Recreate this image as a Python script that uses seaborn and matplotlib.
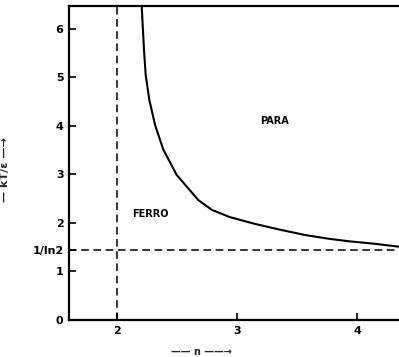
import matplotlib
matplotlib.use("Agg")
import matplotlib.pyplot as plt
import seaborn as sns
import pandas as pd
import numpy as np

# values
n_values = [2.206, 2.214, 2.225, 2.239, 2.269, 2.317, 2.386, 2.497, 2.678,
            2.79, 2.94, 3.15, 3.36, 3.57, 3.775, 3.94, 4.15, 4.35]
kT_values = [6.46, 6.08, 5.57, 5.05, 4.54, 4.02, 3.51, 2.99, 2.47,
             2.27, 2.12, 1.98, 1.86, 1.75, 1.67, 1.62, 1.57, 1.51]
y_ticks = [0, 1, 1 / np.log(2), 2, 3, 4, 5, 6]
y_tick_labels = ["0", "1", "1/ln2", "2", "3", "4", "5", "6"]
x_ticks = [2, 3, 4]
x_tick_labels = ["2", "3", "4"]

curve = pd.DataFrame({"n": n_values, "kT": kT_values})

sns.set_style("ticks")
plt.rcParams["font.family"] = ["DejaVu Sans"]
plt.rcParams["font.weight"] = "bold"

fig = plt.figure(figsize=(3.99, 3.57), dpi=100)
ax = fig.add_axes([69 / 399, 37 / 357, 330 / 399, 314 / 357])

sns.lineplot(data=curve, x="n", y="kT", color="black", linewidth=1.5, ax=ax)
ax.axvline(2, color="black", linewidth=1.1, linestyle=(0, (5, 3)))
ax.axhline(1 / np.log(2), color="black", linewidth=1.1, linestyle=(0, (5, 3)))

ax.text(2.275, 2.18, "FERRO", fontsize=7, fontweight="heavy", ha="center", va="center", color="black")
ax.text(3.31, 4.1, "PARA", fontsize=7, fontweight="heavy", ha="center", va="center", color="black")

ax.set_xlim(1.6, 4.35)
ax.set_ylim(0, 6.47)
ax.set_xticks(x_ticks)
ax.set_xticklabels(x_tick_labels)
ax.set_yticks(y_ticks)
ax.set_yticklabels(y_tick_labels)
ax.tick_params(direction="in", length=5, width=1.2, labelsize=8, colors="black", pad=4)

for side in ["left", "bottom", "top"]:
    ax.spines[side].set_linewidth(1.6)
    ax.spines[side].set_color("black")
ax.spines["right"].set_visible(False)

ax.set_xlabel("\u2014\u2014 n \u2014\u2014\u2192", fontsize=7, fontweight="bold")
ax.xaxis.set_label_coords(0.40, -0.085)
ax.set_ylabel("\u2014 kT/\u03b5 \u2014\u2192", fontsize=8, fontweight="bold")
ax.yaxis.set_label_coords(-0.18, 0.48)

fig.savefig("out.png", dpi=100)
